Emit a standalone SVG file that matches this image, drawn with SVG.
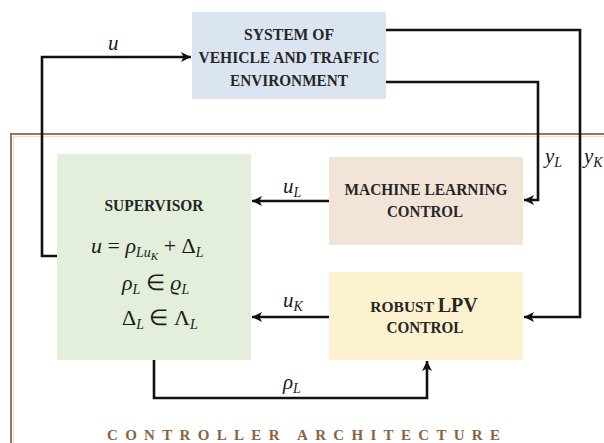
<svg xmlns="http://www.w3.org/2000/svg" width="604" height="443" viewBox="0 0 604 443">
<style>
.box{stroke:none}
.t{font-family:"Liberation Serif","Times New Roman",serif;font-weight:bold;fill:#262626;text-anchor:middle}
.m{font-family:"Liberation Serif","Times New Roman",serif;fill:#1a1a1a}
.i{font-style:italic}
.c{fill:none;stroke:#111;stroke-width:2.6}
</style>
<defs>
<marker id="ah" markerUnits="userSpaceOnUse" markerWidth="12" markerHeight="12" refX="10" refY="6" orient="auto">
<path d="M0,1 L10,6 L0,11 L2.5,6 z" fill="#111"/>
</marker>
</defs>
<rect width="604" height="443" fill="#fff"/>
<path d="M604 134 H11 V443" fill="none" stroke="#9a7656" stroke-width="2"/>
<path d="M604 136.5 H13.5 V443" fill="none" stroke="#e9ddd0" stroke-width="1"/>

<g id="system">
<rect class="box" x="192" y="12" width="194" height="87" fill="#dbe4f1"/>
<text class="t" x="289" y="40" font-size="17" textLength="90" lengthAdjust="spacingAndGlyphs">SYSTEM OF</text>
<text class="t" x="289" y="63" font-size="17" textLength="181" lengthAdjust="spacingAndGlyphs">VEHICLE AND TRAFFIC</text>
<text class="t" x="289" y="86" font-size="17" textLength="118" lengthAdjust="spacingAndGlyphs">ENVIRONMENT</text>
</g>

<g id="supervisor">
<rect class="box" x="57" y="154" width="194" height="206" fill="#e3efda"/>
<text class="t" x="154" y="211" font-size="17" textLength="99" lengthAdjust="spacingAndGlyphs">SUPERVISOR</text>
<text class="m" x="91" y="253" font-size="22"><tspan class="i">u</tspan> = <tspan class="i">ρ</tspan><tspan class="i" font-size="14" dy="4">Lu</tspan><tspan class="i" font-size="11" dy="3">K</tspan><tspan dy="-7"> + Δ</tspan><tspan class="i" font-size="14" dy="4">L</tspan></text>
<text class="m" x="122" y="290" font-size="22"><tspan class="i">ρ</tspan><tspan class="i" font-size="14" dy="4">L</tspan><tspan dy="-4"> ∈ </tspan><tspan class="i">ϱ</tspan><tspan class="i" font-size="14" dy="4">L</tspan></text>
<text class="m" x="122" y="325" font-size="22">Δ<tspan class="i" font-size="14" dy="4">L</tspan><tspan dy="-4"> ∈ Λ</tspan><tspan class="i" font-size="14" dy="4">L</tspan></text>
</g>

<g id="ml">
<rect class="box" x="329" y="157" width="194" height="88" fill="#f3e4d8"/>
<text class="t" x="426" y="195" font-size="17" textLength="163" lengthAdjust="spacingAndGlyphs">MACHINE LEARNING</text>
<text class="t" x="425" y="217" font-size="17" textLength="76" lengthAdjust="spacingAndGlyphs">CONTROL</text>
</g>

<g id="robust">
<rect class="box" x="329" y="272" width="194" height="88" fill="#fcf2cf"/>
<text class="t" x="424" y="312" font-size="15.5"><tspan>ROBUST </tspan><tspan font-size="20">LPV</tspan></text>
<text class="t" x="425" y="333" font-size="17" textLength="77" lengthAdjust="spacingAndGlyphs">CONTROL</text>
</g>

<g id="connectors">
<path class="c" d="M57 256 H42 V57 H191" marker-end="url(#ah)"/>
<path class="c" d="M386 82 H538 V200 H524" marker-end="url(#ah)"/>
<path class="c" d="M386 30 H580 V317 H524" marker-end="url(#ah)"/>
<path class="c" d="M329 201 H252" marker-end="url(#ah)"/>
<path class="c" d="M329 317 H252" marker-end="url(#ah)"/>
<path class="c" d="M154 360 V398 H427 V361" marker-end="url(#ah)"/>
</g>

<g id="labels">
<text x="108" y="50" class="m i" font-size="21">u</text>
<text x="283" y="193" class="m i" font-size="21">u<tspan font-size="14" dy="4">L</tspan></text>
<text x="283" y="307" class="m i" font-size="21">u<tspan font-size="14" dy="4">K</tspan></text>
<text x="283" y="389" class="m i" font-size="21">ρ<tspan font-size="14" dy="4">L</tspan></text>
<text x="545" y="163" class="m i" font-size="21">y<tspan font-size="14" dy="4">L</tspan></text>
<text x="584" y="163" class="m i" font-size="21">y<tspan font-size="14" dy="4">K</tspan></text>
</g>

<text x="307" y="440" font-family="'Liberation Serif','Times New Roman',serif" font-weight="bold" font-size="15" fill="#8a6440" text-anchor="middle" textLength="400" lengthAdjust="spacing" letter-spacing="7">CONTROLLER   ARCHITECTURE</text>
</svg>
